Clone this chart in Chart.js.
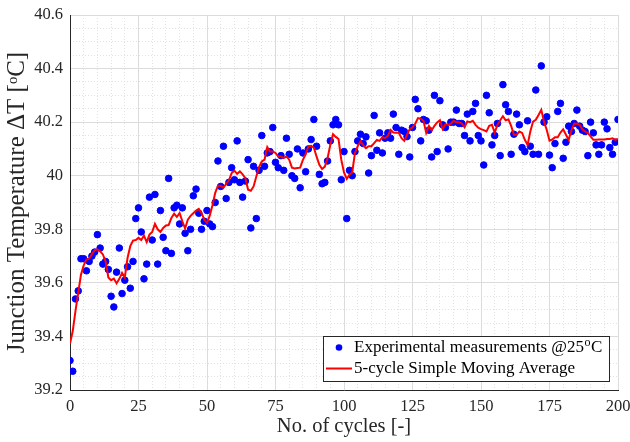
<!DOCTYPE html>
<html>
<head>
<meta charset="utf-8">
<script src="https://cdn.jsdelivr.net/npm/chart.js@4.4.1/dist/chart.umd.min.js"></script>
<style>
  html, body { margin: 0; padding: 0; background: #fff; }
  #wrap { width: 630px; height: 442px; }
</style>
</head>
<body>
<div id="wrap"><canvas id="junction-chart"></canvas></div>
<script>
// measured junction temperature, one point per cycle (0..200)
const measured = [
  39.31, 39.27, 39.54, 39.57, 39.69, 39.69, 39.645, 39.68, 39.70, 39.715,
  39.78, 39.73, 39.67, 39.68, 39.65, 39.55, 39.51, 39.64, 39.73, 39.56,
  39.61, 39.66, 39.58, 39.68, 39.84, 39.88, 39.79, 39.615, 39.67, 39.92,
  39.76, 39.93, 39.67, 39.87, 39.77, 39.72, 39.99, 39.71, 39.88, 39.89,
  39.82, 39.88, 39.785, 39.72, 39.80, 39.925, 39.95, 39.86, 39.80, 39.83,
  39.87, 39.82, 39.81, 39.90, 40.055, 39.96, 40.11, 39.915, 39.975, 40.03,
  39.985, 40.13, 39.975, 39.92, 39.98, 40.06, 39.805, 40.035, 39.84, 40.02,
  40.15, 40.035, 40.085, 40.09, 40.18, 40.05, 40.03, 40.075, 40.02, 40.14,
  40.08, 40.00, 39.99, 40.10, 39.955, 40.085, 40.015, 40.10, 40.135, 40.21,
  40.11, 40.005, 39.97, 39.975, 40.055, 40.13, 40.19, 40.21, 40.19, 39.985,
  40.09, 39.84, 40.02, 40.00, 40.09, 40.13, 40.155, 40.12, 40.145, 40.01,
  40.075, 40.225, 40.095, 40.16, 40.085, 40.14, 40.16, 40.14, 40.23, 40.18,
  40.08, 40.17, 40.165, 40.146, 40.07, 40.18, 40.285, 40.25, 40.13, 40.21,
  40.205, 40.17, 40.07, 40.30, 40.09, 40.28, 40.19, 40.18, 40.10, 40.20,
  40.20, 40.245, 40.195, 40.195, 40.15, 40.23, 40.13, 40.24, 40.27, 40.15,
  40.13, 40.04, 40.30, 40.235, 40.115, 40.15, 40.195, 40.075, 40.34, 40.265,
  40.24, 40.08, 40.155, 40.23, 40.19, 40.105, 40.09, 40.205, 40.11, 40.08,
  40.32, 40.08, 40.41, 40.20, 40.22, 40.077, 40.03, 40.12, 40.24, 40.27,
  40.065, 40.125, 40.185, 40.165, 40.195, 40.245, 40.185, 40.17, 40.165, 40.075,
  40.20, 40.16, 40.115, 40.08, 40.115, 40.20, 40.175, 40.105, 40.08, 40.125,
  40.21
];

// 5-cycle simple moving average
const movingAvg = [
  39.373, 39.42, 39.495, 39.563, 39.63, 39.665, 39.687, 39.69, 39.708, 39.722,
  39.725, 39.718, 39.706, 39.68, 39.62, 39.61, 39.616, 39.598, 39.615, 39.637,
  39.62, 39.693, 39.737, 39.758, 39.76, 39.768, 39.76, 39.776, 39.752, 39.78,
  39.79, 39.82, 39.80, 39.79, 39.805, 39.814, 39.816, 39.842, 39.858, 39.846,
  39.861, 39.83, 39.803, 39.836, 39.85, 39.86, 39.87, 39.876, 39.861, 39.836,
  39.824, 39.851, 39.89, 39.936, 39.963, 39.963, 39.955, 39.97, 39.983, 40.01,
  40.019, 40.007, 40.016, 40.005, 39.991, 39.948, 39.944, 39.96, 39.997, 40.032,
  40.053, 40.06, 40.107, 40.09, 40.09, 40.085, 40.072, 40.072, 40.066, 40.072,
  40.06, 40.03, 40.027, 40.029, 40.03, 40.059, 40.08, 40.11, 40.112, 40.105,
  40.071, 40.041, 40.025, 40.034, 40.065, 40.115, 40.155, 40.145, 40.137, 40.06,
  40.012, 39.988, 40.004, 40.012, 40.085, 40.11, 40.128, 40.114, 40.103, 40.11,
  40.11, 40.122, 40.134, 40.13, 40.144, 40.14, 40.149, 40.171, 40.161, 40.16,
  40.16, 40.14, 40.13, 40.153, 40.174, 40.181, 40.194, 40.215, 40.213, 40.205,
  40.16, 40.186, 40.17, 40.186, 40.199, 40.207, 40.174, 40.192, 40.19, 40.194,
  40.205, 40.20, 40.20, 40.195, 40.181, 40.203, 40.20, 40.205, 40.19, 40.179,
  40.174, 40.17, 40.165, 40.186, 40.19, 40.161, 40.19, 40.207, 40.222, 40.207,
  40.21, 40.186, 40.153, 40.153, 40.165, 40.16, 40.134, 40.115, 40.165, 40.202,
  40.209, 40.227, 40.246, 40.202, 40.171, 40.131, 40.135, 40.144, 40.144, 40.161,
  40.173, 40.153, 40.134, 40.169, 40.194, 40.195, 40.19, 40.173, 40.165, 40.159,
  40.147, 40.134, 40.134, 40.135, 40.135, 40.135, 40.137, 40.137, 40.14, 40.134,
  40.137
];

const xTicks = [0, 25, 50, 75, 100, 125, 150, 175, 200];
const yTicks = [39.2, 39.4, 39.6, 39.8, 40, 40.2, 40.4, 40.6];

const seriesNames = ['Experimental measurements @25', '5-cycle Simple Moving Average'];

const serif = "'Liberation Serif', 'DejaVu Serif', serif";
const textColor = '#262626';

const cycles = measured.map((v, i) => i);
const measuredPts = measured.map((v, i) => ({ x: cycles[i], y: v }));
const avgPts = movingAvg.map((v, i) => ({ x: cycles[i], y: v }));

// legend box drawn inside the plot, bottom right (like the matlab one)
const boxLegend = {
  id: 'boxLegend',
  afterDraw(chart) {
    const { ctx, chartArea } = chart;
    const w = 286, h = 45;
    const x0 = chartArea.right - 9 - w;
    const y0 = chartArea.bottom - 9 - h;
    ctx.save();
    ctx.fillStyle = '#fff';
    ctx.fillRect(x0, y0, w, h);
    ctx.strokeStyle = '#262626';
    ctx.lineWidth = 1;
    ctx.strokeRect(Math.round(x0) + 0.5, Math.round(y0) + 0.5, w, h);

    const r1 = y0 + 11.5, r2 = y0 + 32.5;
    // markers
    ctx.fillStyle = '#0000ff';
    ctx.beginPath();
    ctx.arc(x0 + 16, r1, 3.3, 0, Math.PI * 2);
    ctx.fill();
    ctx.strokeStyle = '#ff0000';
    ctx.lineWidth = 2;
    ctx.beginPath();
    ctx.moveTo(x0 + 3, r2);
    ctx.lineTo(x0 + 29, r2);
    ctx.stroke();

    // text
    ctx.fillStyle = '#000';
    ctx.textBaseline = 'middle';
    ctx.font = '17px ' + serif;
    let tx = x0 + 31;
    ctx.fillText(seriesNames[0], tx, r1);
    tx += ctx.measureText(seriesNames[0]).width;
    ctx.font = '12px ' + serif;
    ctx.fillText('o', tx + 0.5, r1 - 5);
    tx += ctx.measureText('o').width + 1;
    ctx.font = '17px ' + serif;
    ctx.fillText('C', tx, r1);
    ctx.fillText(seriesNames[1], x0 + 31, r2);
    ctx.restore();
  }
};

const isMajorX = v => Math.abs(v / 25 - Math.round(v / 25)) < 1e-6;
const isMajorY = v => Math.abs(v * 5 - Math.round(v * 5)) < 1e-6;

const chartConfig = {
  type: 'scatter',
  data: {
    datasets: [
      {
        label: seriesNames[0],
        data: measuredPts,
        backgroundColor: '#0000ff',
        borderColor: '#0000ff',
        pointRadius: 3.3,
        pointHoverRadius: 3.3,
        order: 2
      },
      {
        type: 'line',
        label: seriesNames[1],
        data: avgPts,
        borderColor: '#ff0000',
        borderWidth: 2,
        pointRadius: 0,
        fill: false,
        tension: 0,
        order: 1
      }
    ]
  },
  options: {
    responsive: false,
    animation: false,
    maintainAspectRatio: false,
    layout: { padding: { top: 15, right: 12, left: 0, bottom: 0 } },
    plugins: { legend: { display: false }, tooltip: { enabled: false } },
    scales: {
      xMinor: {
        type: 'linear', position: 'top', min: 0, max: 200,
        ticks: { display: false, stepSize: 5 },
        grid: {
          drawTicks: false,
          color: c => (c.tick && isMajorX(c.tick.value)) ? 'rgba(0,0,0,0)' : '#e2e2e2'
        },
        border: { display: false, dash: [1, 2] },
        afterFit: s => { s.height = 0; s.paddingLeft = 0; s.paddingRight = 0; }
      },
      yMinor: {
        type: 'linear', position: 'right', min: 39.2, max: 40.6,
        ticks: { display: false, stepSize: 0.05 },
        grid: {
          drawTicks: false,
          color: c => (c.tick && isMajorY(c.tick.value)) ? 'rgba(0,0,0,0)' : '#e2e2e2'
        },
        border: { display: false, dash: [1, 2] },
        afterFit: s => { s.width = 0; s.paddingTop = 0; s.paddingBottom = 0; }
      },
      x: {
        type: 'linear', position: 'bottom', min: 0, max: 200,
        afterBuildTicks: axis => { axis.ticks = xTicks.map(v => ({ value: v })); },
        grid: { color: '#dcdcdc', drawTicks: false },
        border: { color: textColor, width: 1 },
        ticks: {
          padding: 7, color: textColor, maxRotation: 0,
          font: { family: serif, size: 16.5 },
          callback: v => String(v)
        },
        title: {
          display: true, text: 'No. of cycles [-]', color: textColor,
          font: { family: serif, size: 20.5 }, padding: { top: 0, bottom: 3 }
        },
        afterFit: s => { s.height = 52; s.paddingLeft = 0; s.paddingRight = 0; }
      },
      y: {
        type: 'linear', position: 'left', min: 39.2, max: 40.6,
        afterBuildTicks: axis => { axis.ticks = yTicks.map(v => ({ value: v })); },
        grid: { color: '#dcdcdc', drawTicks: false },
        border: { color: textColor, width: 1 },
        ticks: {
          padding: 7, color: textColor,
          font: { family: serif, size: 16.5 },
          callback: v => String(Number(v.toFixed(1)))
        },
        title: {
          display: true, text: 'Junction Temperature ΔT [ᵒC]', color: textColor,
          font: { family: serif, size: 25 }, padding: { top: 2, bottom: 0 }
        },
        afterFit: s => { s.width = 70; s.paddingTop = 0; s.paddingBottom = 0; }
      }
    }
  },
  plugins: [boxLegend]
};

const chartElement = document.getElementById('junction-chart');
chartElement.width = 630;
chartElement.height = 442;
const junctionChart = new Chart(chartElement, chartConfig);
</script>
</body>
</html>
